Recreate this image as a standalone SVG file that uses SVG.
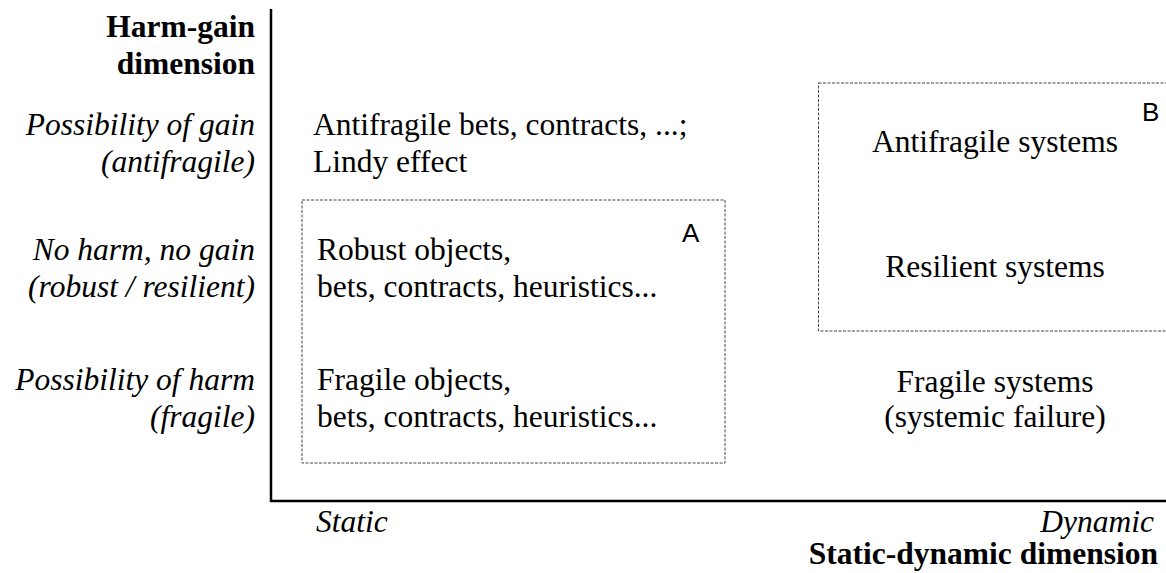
<svg xmlns="http://www.w3.org/2000/svg" width="1166" height="573" viewBox="0 0 1166 573">
<style>
.t{font-family:"Liberation Serif","Times New Roman",serif;font-size:31.5px;fill:#000}
.i{font-style:italic}
.b{font-weight:bold}
.r{text-anchor:end}
.m{text-anchor:middle}
.lab{font-family:"Liberation Sans",Arial,sans-serif;font-size:26px;fill:#000}
.box{fill:none;stroke:#444;stroke-width:1;stroke-dasharray:3 1.5}
.axis{fill:none;stroke:#000;stroke-width:2.5}
</style>
<rect width="1166" height="573" fill="#fff"/>
<g id="axes">
<path class="axis" d="M271 9 V501 H1166"/>
</g>
<g id="y-axis-labels">
<text class="t b r" x="255" y="37">Harm-gain</text>
<text class="t b r" x="255" y="74">dimension</text>
<text class="t i r" x="255" y="135">Possibility of gain</text>
<text class="t i r" x="255" y="172">(antifragile)</text>
<text class="t i r" x="255" y="260">No harm, no gain</text>
<text class="t i r" x="255" y="297">(robust / resilient)</text>
<text class="t i r" x="255" y="390">Possibility of harm</text>
<text class="t i r" x="255" y="427">(fragile)</text>
</g>
<g id="x-axis-labels">
<text class="t i" x="316" y="532">Static</text>
<text class="t i r" x="1154" y="532">Dynamic</text>
<text class="t b r" x="1158" y="564">Static-dynamic dimension</text>
</g>
<g id="antifragile-bets">
<text class="t" x="313" y="135">Antifragile bets, contracts, ...;</text>
<text class="t" x="313" y="172">Lindy effect</text>
</g>
<g id="box-A">
<rect class="box" x="302" y="200" width="423" height="263"/>
<text class="lab" x="682" y="242">A</text>
<text class="t" x="317" y="260">Robust objects,</text>
<text class="t" x="317" y="297">bets, contracts, heuristics...</text>
<text class="t" x="317" y="390">Fragile objects,</text>
<text class="t" x="317" y="427">bets, contracts, heuristics...</text>
</g>
<g id="box-B">
<rect class="box" x="818.5" y="83" width="360" height="248"/>
<text class="lab" x="1142" y="121">B</text>
<text class="t m" x="995" y="152">Antifragile systems</text>
<text class="t m" x="995" y="277">Resilient systems</text>
</g>
<g id="fragile-systems">
<text class="t m" x="995" y="392">Fragile systems</text>
<text class="t m" x="995" y="427">(systemic failure)</text>
</g>
</svg>
